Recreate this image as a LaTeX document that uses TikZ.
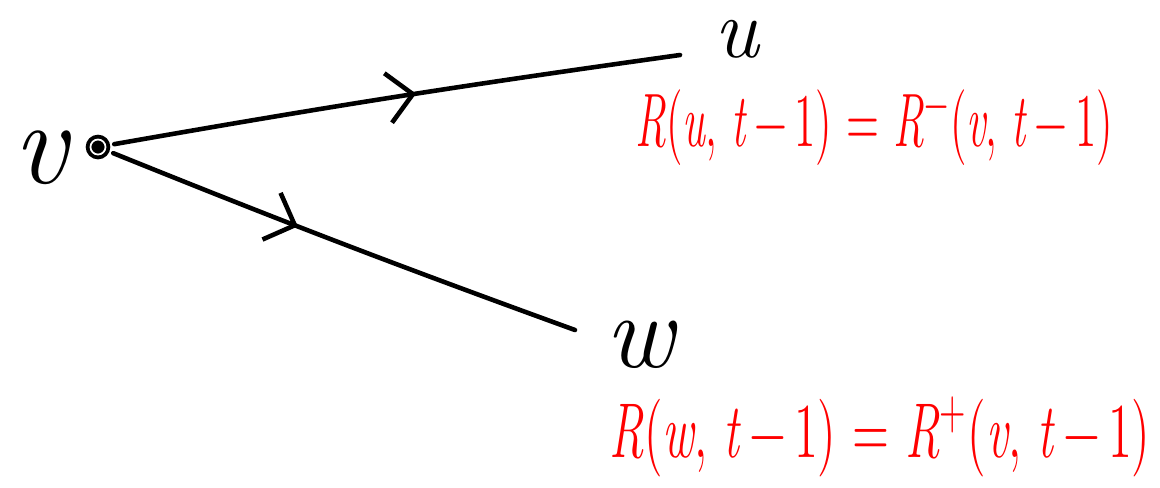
\documentclass[tikz,border=0pt]{standalone}
\usepackage{fontspec}
\usetikzlibrary{arrows.meta, decorations.markings}
\newcommand{\iv}[1]{\textit{#1}}

\begin{document}
\begin{tikzpicture}[
    x=0.01cm, y=-0.01cm,
    dot/.style={circle, draw, fill=black, line width=1.1pt, double=white, double distance=0.5pt, inner sep=0pt, minimum size=0.15cm},
    vtx/.style={inner sep=0pt, font=\fontsize{#1}{#1}\selectfont\itshape},
    rel/.style={text=red, inner sep=0pt, font=\fontsize{#1}{#1}\selectfont},
    flow/.style={line width=1.3pt, line cap=round, postaction={decorate},
        decoration={markings, mark=at position #1 with {\arrow{Straight Barb[length=2.5mm, width=5mm, line width=1.3pt]}}}}
]
    \useasboundingbox (0,0) rectangle (1160,487);

    % vertices
    \node[dot] (v) at (98,147) {};
    \node[vtx=34] (vl) at (40,158) {v};
    \node[vtx=24, anchor=base] (ul) at (737,57) {u};
    \node[vtx=30] (wl) at (640,345) {w};
    \coordinate (ue) at (680,55);
    \coordinate (we) at (575,330);

    % edges
    \draw[flow=0.54, shorten <=2pt] (v) to[bend left=1] (ue);
    \draw[flow=0.41, shorten <=2pt] (v) to[bend right=1] (we);

    % relations
    \node[rel=12.3, yscale=1.75] (ru) at (874,128) {\iv{R}(\iv{u}, \iv{t}\,−\,1) = \iv{R}\textsuperscript{−}(\iv{v}, \iv{t}\,−\,1)};
    \node[rel=13.8, yscale=1.6] (rw) at (880,437) {\iv{R}(\iv{w}, \iv{t}\,−\,1) = \iv{R}\textsuperscript{+}(\iv{v}, \iv{t}\,−\,1)};
\end{tikzpicture}
\end{document}
